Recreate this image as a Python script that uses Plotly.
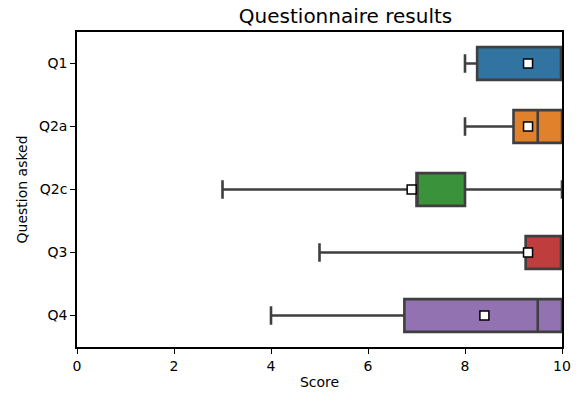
import plotly.graph_objects as go

questions = ["Q1", "Q2a", "Q2c", "Q3", "Q4"]
lower_fence = [8.0, 8.0, 3.0, 5.0, 4.0]
q1_vals = [8.25, 9.0, 7.0, 9.25, 6.75]
medians = [10.0, 9.5, 7.0, 10.0, 9.5]
q3_vals = [10.0, 10.0, 8.0, 10.0, 10.0]
upper_fence = [10.0, 10.0, 10.0, 10.0, 10.0]
means = [9.3, 9.3, 6.9, 9.3, 8.4]
colors = ["#3274a1", "#e1812c", "#3a923a", "#c03d3e", "#9372b2"]

fig = go.Figure()
for i, q in enumerate(questions):
    fig.add_trace(go.Box(
        y=[q], orientation="h",
        q1=[q1_vals[i]], median=[medians[i]], q3=[q3_vals[i]],
        lowerfence=[lower_fence[i]], upperfence=[upper_fence[i]],
        fillcolor=colors[i], line=dict(color="#3f3f3f", width=2.6),
        width=0.52, whiskerwidth=0.56, boxpoints=False,
        showlegend=False, hoverinfo="skip",
    ))

fig.add_trace(go.Scatter(
    x=means, y=questions, mode="markers",
    marker=dict(symbol="square", size=9, color="white",
                line=dict(color="black", width=1.5)),
    showlegend=False, cliponaxis=False, hoverinfo="skip",
))

font = dict(family="DejaVu Sans", size=14, color="black")
fig.update_layout(
    width=577, height=394,
    margin=dict(l=77, r=15, t=32, b=47, autoexpand=False),
    paper_bgcolor="white", plot_bgcolor="white",
    font=font,
    title=dict(text="Questionnaire results", x=0.5537, xanchor="center",
               xref="paper", y=1 - 16 / 394, yanchor="middle",
               font=dict(family="DejaVu Sans", size=20, color="black")),
    xaxis=dict(range=[0, 10], tickvals=[0, 2, 4, 6, 8, 10], automargin=False,
               showgrid=False, zeroline=False, showline=True, linecolor="black",
               linewidth=1.6, mirror=True, ticks="outside", ticklen=5,
               tickwidth=1.2, tickcolor="black",
               title=dict(text="Score", standoff=5, font=font)),
    yaxis=dict(categoryorder="array", categoryarray=questions, automargin=False,
               range=[4.5, -0.5], showgrid=False, zeroline=False,
               showline=True, linecolor="black", linewidth=1.6, mirror=True,
               ticks="outside", ticklen=5, tickwidth=1.2, tickcolor="black",
               title=dict(text="Question asked", standoff=8, font=font)),
)

fig.write_html("out.html", config={"displayModeBar": False},
               post_script="document.body.style.margin='0px';")
